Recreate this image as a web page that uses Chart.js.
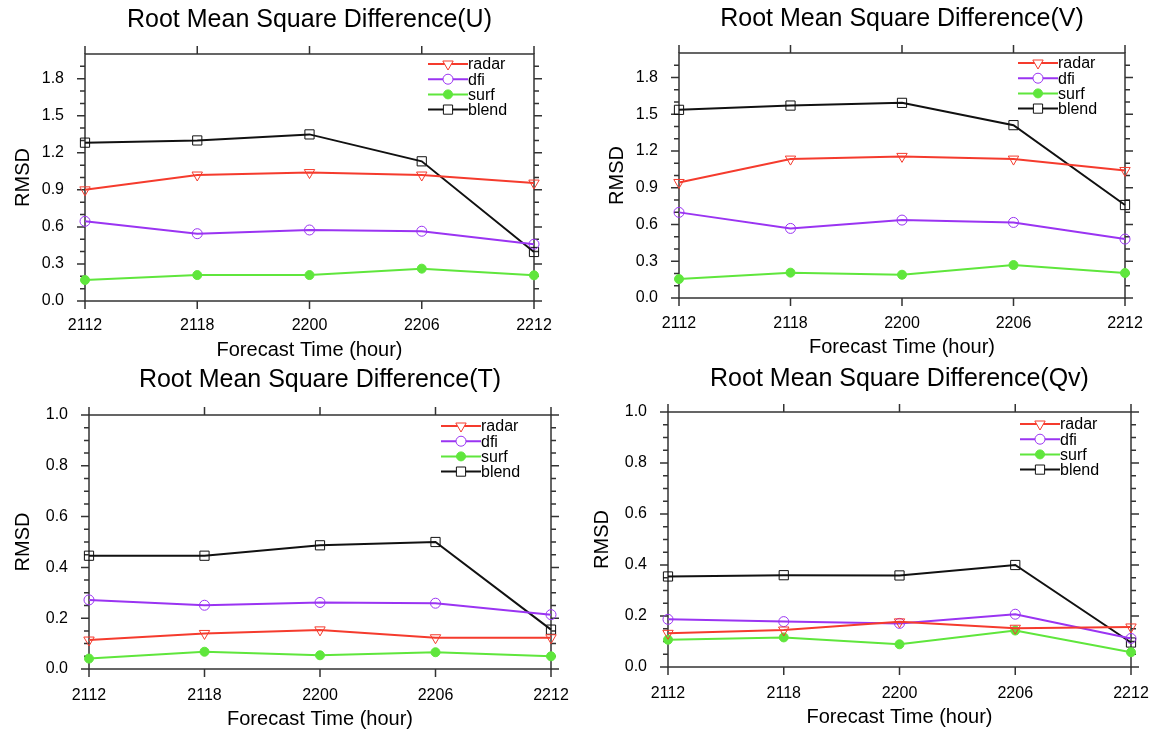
<!DOCTYPE html>
<html>
<head>
<meta charset="utf-8">
<title>Root Mean Square Difference</title>
<script src="https://cdn.jsdelivr.net/npm/chart.js@4.4.1/dist/chart.umd.min.js"></script>
<style>
  html, body { margin:0; padding:0; background:#fff; width:1151px; height:731px; overflow:hidden; }
  canvas { position:absolute; }
</style>
</head>
<body>
<canvas id="c-u"></canvas>
<canvas id="c-v"></canvas>
<canvas id="c-t"></canvas>
<canvas id="c-q"></canvas>
<script>
/* ---------- data ---------- */
const hours = ['2112', '2118', '2200', '2206', '2212'];
const seriesNames = ['radar', 'dfi', 'surf', 'blend'];

const uRadar = [0.90, 1.02, 1.04, 1.02, 0.955];
const uDfi   = [0.645, 0.545, 0.575, 0.565, 0.46];
const uSurf  = [0.17, 0.21, 0.21, 0.262, 0.208];
const uBlend = [1.282, 1.30, 1.349, 1.131, 0.397];

const vRadar = [0.943, 1.134, 1.156, 1.134, 1.041];
const vDfi   = [0.699, 0.568, 0.636, 0.617, 0.481];
const vSurf  = [0.155, 0.207, 0.19, 0.269, 0.204];
const vBlend = [1.536, 1.571, 1.593, 1.411, 0.759];

const tRadar = [0.114, 0.14, 0.154, 0.123, 0.123];
const tDfi   = [0.272, 0.251, 0.262, 0.259, 0.214];
const tSurf  = [0.041, 0.068, 0.054, 0.066, 0.05];
const tBlend = [0.446, 0.446, 0.487, 0.50, 0.155];

const qRadar = [0.132, 0.145, 0.177, 0.152, 0.157];
const qDfi   = [0.187, 0.178, 0.171, 0.207, 0.112];
const qSurf  = [0.107, 0.116, 0.089, 0.143, 0.058];
const qBlend = [0.355, 0.36, 0.359, 0.40, 0.096];

const windTicks = [0.0, 0.3, 0.6, 0.9, 1.2, 1.5, 1.8];
const scalarTicks = [0.0, 0.2, 0.4, 0.6, 0.8, 1.0];

/* ---------- styles ---------- */
const FONT = "'Liberation Sans', Arial, Helvetica, sans-serif";
const seriesStyle = [
  { color:'#f53b2d', pointStyle:'triangle', rotation:180, radius:6,   fill:'rgba(0,0,0,0)' },
  { color:'#9a34f2', pointStyle:'circle',   rotation:0,   radius:5,   fill:'rgba(0,0,0,0)' },
  { color:'#5fe63c', pointStyle:'circle',   rotation:0,   radius:4.5, fill:'#5fe63c' },
  { color:'#111111', pointStyle:'rect',     rotation:0,   radius:6.5, fill:'rgba(0,0,0,0)' },
];

/* frame + outward ticks on all four sides */
const frameTicks = {
  id:'frameTicks',
  beforeDatasetsDraw(chart, args, opts){
    const { ctx, chartArea:a, scales:{ x, y } } = chart;
    ctx.save();
    ctx.strokeStyle = '#333';
    ctx.lineWidth = 1.5;
    ctx.strokeRect(a.left, a.top, a.right - a.left, a.bottom - a.top);
    ctx.beginPath();
    x.ticks.forEach((t, i) => {
      const px = x.getPixelForTick(i);
      ctx.moveTo(px, a.bottom); ctx.lineTo(px, a.bottom + 8);
      ctx.moveTo(px, a.top);    ctx.lineTo(px, a.top - 8);
    });
    y.ticks.forEach(t => {
      const py = y.getPixelForValue(t.value);
      ctx.moveTo(a.left, py);  ctx.lineTo(a.left - 8, py);
      ctx.moveTo(a.right, py); ctx.lineTo(a.right + 8, py);
    });
    for (let k = 1; k * opts.minorStep < y.max - 1e-9; k++){
      const v = k * opts.minorStep;
      if (y.ticks.some(t => Math.abs(t.value - v) < 1e-9)) continue;
      const py = y.getPixelForValue(v);
      ctx.moveTo(a.left, py);  ctx.lineTo(a.left - 5, py);
      ctx.moveTo(a.right, py); ctx.lineTo(a.right + 5, py);
    }
    ctx.stroke();
    ctx.restore();
  }
};

/* legend inside the plot: line with marker, then label */
const insideLegend = {
  id:'insideLegend',
  afterDraw(chart, args, opts){
    const { ctx, chartArea:a } = chart;
    const x0 = a.right - opts.dx;
    ctx.save();
    ctx.font = '16px ' + FONT;
    ctx.textBaseline = 'middle';
    chart.data.datasets.forEach((ds, i) => {
      const yy = a.top + opts.dy + i * 15.2;
      ctx.strokeStyle = ds.borderColor;
      ctx.lineWidth = 2;
      ctx.beginPath(); ctx.moveTo(x0, yy); ctx.lineTo(x0 + 40, yy); ctx.stroke();
      ctx.lineWidth = 1;
      const ps = { pointStyle: ds.pointStyle, rotation: ds.pointRotation, radius: ds.pointRadius, borderWidth: 1 };
      ctx.fillStyle = ds.pointBackgroundColor === 'rgba(0,0,0,0)' ? '#fff' : ds.pointBackgroundColor;
      Chart.helpers.drawPoint(ctx, ps, x0 + 20, yy);
      ctx.fillStyle = '#000';
      ctx.fillText(ds.label, x0 + 40, yy + 1);
    });
    ctx.restore();
  }
};

function makePanel(cfg){
  const el = document.getElementById(cfg.id);
  const b = cfg.box;
  const yw = 85;
  el.width = b.r - b.l + 2 * yw;
  el.height = b.bottom - b.y0;
  el.style.left = (b.l - yw) + 'px';
  el.style.top = b.y0 + 'px';
  const titleTop = cfg.titleY - b.y0 - 13;

  new Chart(el, {
    type:'line',
    data:{
      labels: hours,
      datasets: cfg.series.map((vals, i) => ({
        label: seriesNames[i],
        data: vals,
        borderColor: seriesStyle[i].color,
        borderWidth: 2,
        pointStyle: seriesStyle[i].pointStyle,
        pointRotation: seriesStyle[i].rotation,
        pointRadius: seriesStyle[i].radius,
        pointBorderWidth: 1,
        pointBorderColor: seriesStyle[i].color,
        pointBackgroundColor: seriesStyle[i].fill,
        tension: 0,
        clip: false,
      }))
    },
    options:{
      responsive:false,
      animation:false,
      layout:{ padding:0 },
      scales:{
        x:{
          grid:{ display:false, drawTicks:false },
          border:{ display:false },
          ticks:{ color:'#000', padding: cfg.xLabelY - b.b - 8.6, font:{ family:FONT, size:16 }, maxRotation:0 },
          title:{ display:true, text:'Forecast Time (hour)', color:'#000',
                  font:{ family:FONT, size:20 }, padding:{ top:0, bottom: Math.max(0, b.bottom - cfg.xTitleY - 12) } },
          afterFit: s => { s.height = b.bottom - b.b; }
        },
        y:{
          min:0, max: cfg.yMax,
          afterBuildTicks: s => { s.ticks = cfg.yTicks.map(v => ({ value:v })); },
          grid:{ display:false, drawTicks:false },
          border:{ display:false },
          ticks:{ color:'#000', padding:21, font:{ family:FONT, size:16 }, callback: v => Number(v).toFixed(1) },
          title:{ display:true, text:'RMSD', color:'#000',
                  font:{ family:FONT, size:20 }, padding:{ top: cfg.yTitleX - (b.l - yw) - 12, bottom:0 } },
          afterFit: s => { s.width = yw; }
        },
        yr:{
          type:'linear', position:'right',
          grid:{ display:false, drawTicks:false },
          border:{ display:false },
          ticks:{ display:false },
          afterFit: s => { s.width = yw; }
        }
      },
      plugins:{
        legend:{ display:false },
        tooltip:{ enabled:false },
        title:{
          display:true, text: cfg.title, color:'#000',
          font:{ family:FONT, size:25, weight:'normal' },
          padding:{ top: titleTop, bottom: b.t - b.y0 - titleTop - 30 }
        },
        frameTicks:{ minorStep: cfg.minor },
        insideLegend:{ dx: cfg.legend.dx, dy: cfg.legend.dy }
      }
    },
    plugins:[frameTicks, insideLegend]
  });
}

makePanel({ id:'c-u', title:'Root Mean Square Difference(U)', series:[uRadar, uDfi, uSurf, uBlend],
  yMax:2.0, yTicks:windTicks, minor:0.1,
  box:{ y0:0, l:85, t:54, r:534, b:301, bottom:365 },
  titleY:18, xLabelY:325, xTitleY:350, yTitleX:23, legend:{ dx:106, dy:10 } });

makePanel({ id:'c-v', title:'Root Mean Square Difference(V)', series:[vRadar, vDfi, vSurf, vBlend],
  yMax:2.0, yTicks:windTicks, minor:0.1,
  box:{ y0:0, l:679, t:53, r:1125, b:298, bottom:365 },
  titleY:17, xLabelY:323, xTitleY:347, yTitleX:617, legend:{ dx:107, dy:10 } });

makePanel({ id:'c-t', title:'Root Mean Square Difference(T)', series:[tRadar, tDfi, tSurf, tBlend],
  yMax:1.0, yTicks:scalarTicks, minor:0.05,
  box:{ y0:360, l:89, t:415, r:551, b:669, bottom:731 },
  titleY:378, xLabelY:695, xTitleY:720, yTitleX:23, legend:{ dx:110, dy:11 } });

makePanel({ id:'c-q', title:'Root Mean Square Difference(Qv)', series:[qRadar, qDfi, qSurf, qBlend],
  yMax:1.0, yTicks:scalarTicks, minor:0.05,
  box:{ y0:360, l:668, t:412, r:1131, b:667, bottom:731 },
  titleY:377, xLabelY:693, xTitleY:717, yTitleX:602, legend:{ dx:111, dy:12 } });
</script>
</body>
</html>
